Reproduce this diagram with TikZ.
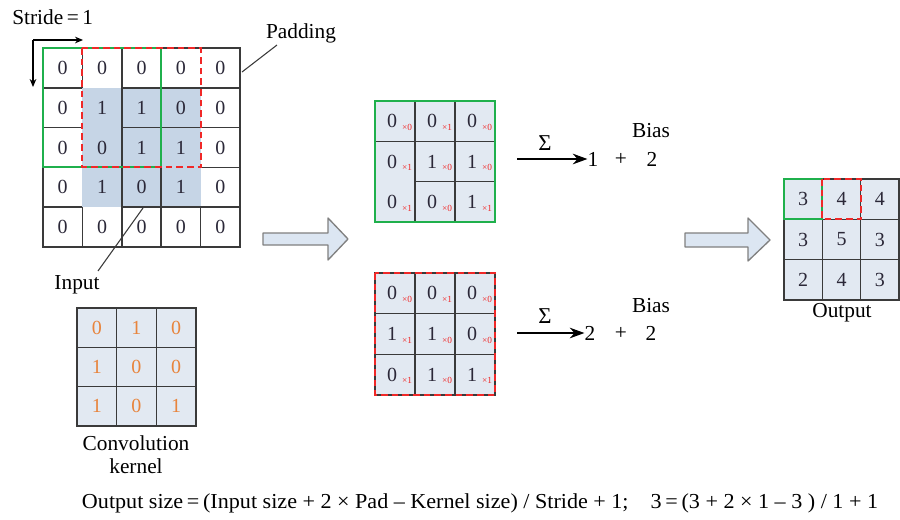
\documentclass[tikz,border=0pt]{standalone}
\usepackage{graphicx}
\usepackage{fontspec}
\setmainfont{Liberation Serif}
\usetikzlibrary{arrows.meta}

\definecolor{gridline}{HTML}{3A3A3A}
\definecolor{inshade}{HTML}{C6D5E6}
\definecolor{cellfill}{HTML}{E2E9F2}
\definecolor{winGreen}{HTML}{1FB04C}
\definecolor{winRed}{HTML}{F02828}
\definecolor{kval}{HTML}{E8843C}
\definecolor{digit}{HTML}{2B2838}
\definecolor{arrowfill}{HTML}{DCE6F2}
\definecolor{arrowedge}{HTML}{808080}

\begin{document}
\begin{tikzpicture}[x=0.75pt,y=-0.75pt,
  gl/.style={draw=gridline,line width=1.1pt},
  greenwin/.style={draw=winGreen,line width=1.5pt},
  redwin/.style={draw=winRed,line width=1.6pt,dash pattern=on 5pt off 3pt},
  dig/.style={font=\fontsize{15}{18}\selectfont,text=digit,inner sep=0pt},
  kdig/.style={font=\fontsize{15}{18}\selectfont,text=kval,inner sep=0pt},
  subx/.style={font=\fontsize{7}{8}\selectfont,text=winRed,inner sep=0pt},
  lab/.style={font=\fontsize{16}{19}\selectfont,text=black,inner sep=0pt},
  thinline/.style={draw=gridline,line width=0.8pt},
  bigarrow/.style={draw=arrowedge,fill=arrowfill,line width=1pt,line join=round},
  sumarrow/.style={draw=black,line width=1pt,-{Stealth[length=11pt,width=8pt]}},
  stridearrow/.style={draw=black,line width=0.8pt,-{Stealth[length=6pt,width=5pt]}}
]
\useasboundingbox (0,0) rectangle (900,519);

% ---------------- input 5x5 with zero padding ----------------
\fill[inshade] (82.4,87.8) rectangle (200.6,207.2);
% grid lines (some are absent around the shaded block)
\draw[gl] (82.4,48) -- (82.4,87.8) (82.4,207.2) -- (82.4,247);
\draw[gl] (121.8,48) -- (121.8,247);
\draw[gl] (161.2,167.4) -- (161.2,247);
\draw[gl] (200.6,207.2) -- (200.6,247);
\draw[gl] (43,87.8) -- (82.4,87.8) (121.8,87.8) -- (240,87.8);
\draw[gl] (43,127.6) -- (82.4,127.6) (121.8,127.6) -- (240,127.6);
\draw[gl] (200.6,167.4) -- (240,167.4);
\draw[gl] (43,207.2) -- (82.4,207.2) (121.8,207.2) -- (240,207.2);
\draw[gl] (43,48) rectangle (240,247);
\foreach \row [count=\r from 0] in {{0,0,0,0,0},{0,1,1,0,0},{0,0,1,1,0},{0,1,0,1,0},{0,0,0,0,0}}{
  \foreach \v [count=\c from 0] in \row {
    \node[dig] (in-\r-\c) at (62.7+39.4*\c,67.9+39.8*\r) {\v};
  }
}
% current windows: green (first step), red dashed (second step)
\draw[greenwin] (43,48) rectangle (161.2,167.4);
\draw[redwin] (82.4,48) rectangle (200.6,167.4);

% stride arrows
\coordinate (st) at (33,40);
\coordinate (stR) at (83,40);
\coordinate (stD) at (33,87);
\draw[stridearrow] (st) -- (stR);
\draw[stridearrow] (st) -- (stD);
\node[lab,anchor=west] (stride) at (12,17) {Stride\,=\,1};

% padding label
\coordinate (padA) at (242,72);
\node[lab] (padding) at (301,33) {Padding};
\draw[thinline] (padA) -- (277,45);

% input label
\coordinate (inA) at (143,208);
\node[lab] (input) at (77,285) {Input};
\draw[thinline] (inA) -- (98,271);

% ---------------- convolution kernel ----------------
\fill[cellfill] (77,308) rectangle (196,426);
\draw[gl] (116.67,308) -- (116.67,426) (156.33,308) -- (156.33,426);
\draw[gl] (77,347.33) -- (196,347.33) (77,386.67) -- (196,386.67);
\draw[gl] (77,308) rectangle (196,426);
\foreach \row [count=\r from 0] in {{0,1,0},{1,0,0},{1,0,1}}{
  \foreach \v [count=\c from 0] in \row {
    \node[kdig] (k-\r-\c) at (96.8+39.667*\c,327.7+39.333*\r) {\v};
  }
}
\node[lab] (convlab) at (136,443) {Convolution};
\node[lab] (kernlab) at (136,466) {kernel};

% ---------------- big arrows ----------------
\draw[bigarrow] (263,233) -- (328,233) -- (328,218) -- (348,239) -- (328,260) -- (328,245) -- (263,245) -- cycle;
\draw[bigarrow] (685,233) -- (748,233) -- (748,218) -- (770,240) -- (748,261) -- (748,247) -- (685,247) -- cycle;

% ---------------- first window products ----------------
\fill[cellfill] (375,101) rectangle (495,222);
\draw[gl] (415,101) -- (415,222) (455,101) -- (455,222);
\draw[gl] (375,141.3) -- (495,141.3) (415,181.7) -- (495,181.7);
\draw[greenwin] (375,101) rectangle (495,222);
\foreach \row [count=\r from 0] in {{0/0,0/1,0/0},{0/1,1/0,1/0},{0/1,0/0,1/1}}{
  \foreach \v/\w [count=\c from 0] in \row {
    \node[dig] (g-\r-\c) at (392+40*\c,121.2+40.3*\r) {\v};
    \node[subx] at (407+40*\c,127.5+40.3*\r) {×\w};
  }
}
\coordinate (gsA) at (517,159);
\node[lab] (gres) at (593,159) {1};
\node[lab] (gplus) at (621,159) {+};
\node[lab] (gbias) at (652,159) {2};
\node[lab] (gbiaslab) at (651,131) {Bias};
\node[lab,font=\fontsize{17}{20}\selectfont] (gsig) at (545,143) {Σ};
\draw[sumarrow] (gsA) -- (gres.west);

% ---------------- second window products ----------------
\fill[cellfill] (375,273) rectangle (495,395);
\draw[gl] (415,273) -- (415,395) (455,273) -- (455,395);
\draw[gl] (375,313.7) -- (495,313.7) (375,354.3) -- (495,354.3);
\draw[gl] (375,273) rectangle (495,395);
\draw[redwin] (375,273) rectangle (495,395);
\foreach \row [count=\r from 0] in {{0/0,0/1,0/0},{1/1,1/0,0/0},{0/1,1/0,1/1}}{
  \foreach \v/\w [count=\c from 0] in \row {
    \node[dig] (r-\r-\c) at (392+40*\c,293.3+40.7*\r) {\v};
    \node[subx] at (407+40*\c,299.5+40.7*\r) {×\w};
  }
}
\coordinate (rsA) at (517,333);
\node[lab] (rres) at (590,333) {2};
\node[lab] (rplus) at (621,333) {+};
\node[lab] (rbias) at (651,333) {2};
\node[lab] (rbiaslab) at (651,306) {Bias};
\node[lab,font=\fontsize{17}{20}\selectfont] (rsig) at (545,316) {Σ};
\draw[sumarrow] (rsA) -- (rres.west);

% ---------------- output feature map ----------------
\fill[cellfill] (784,179) rectangle (899,300);
\draw[gl] (822.3,179) -- (822.3,300) (860.7,179) -- (860.7,300);
\draw[gl] (784,219.3) -- (899,219.3) (784,259.7) -- (899,259.7);
\draw[gl] (784,179) rectangle (899,300);
\foreach \row [count=\r from 0] in {{3,4,4},{3,5,3},{2,4,3}}{
  \foreach \v [count=\c from 0] in \row {
    \node[dig] (o-\r-\c) at (803.2+38.33*\c,199.2+40.33*\r) {\v};
  }
}
\draw[greenwin] (784,179) rectangle (822.3,219.3);
\draw[redwin] (822.3,179) rectangle (860.7,219.3);
\node[lab] (outlab) at (842,313) {Output};

% ---------------- size formula ----------------
\node[lab] (formula) at (480,503) {\resizebox{597pt}{\height}{Output size\,=\,(Input size + 2 × Pad – Kernel size) / Stride + 1;\quad 3\,=\,(3 + 2 × 1 – 3 ) / 1 + 1}};
\end{tikzpicture}
\end{document}
